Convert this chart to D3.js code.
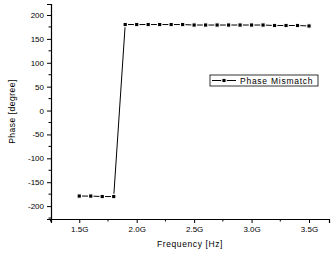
<!DOCTYPE html>
<html>
<head>
<meta charset="utf-8">
<script src="https://cdn.jsdelivr.net/npm/d3@7"></script>
<style>
  body { margin: 0; background: #fff; }
  svg { display: block; font-family: "Liberation Sans", Arial, sans-serif; }
</style>
</head>
<body>
<div id="chart"></div>
<script>
// frequency in GHz
const freqs = [1.5, 1.6, 1.7, 1.8, 1.9, 2.0, 2.1, 2.2, 2.3, 2.4, 2.5, 2.6, 2.7,
  2.8, 2.9, 3.0, 3.1, 3.2, 3.3, 3.4, 3.5];
const phase = [-179, -179, -180, -180, 180, 180, 180, 180, 180, 180, 179, 179, 179,
  179, 179, 179, 179, 178, 178, 178, 177];
const xTicks = [1.5, 2.0, 2.5, 3.0, 3.5];
const yTicks = [-200, -150, -100, -50, 0, 50, 100, 150, 200];
const seriesName = "Phase Mismatch";

const width = 336, height = 258;
const margin = { top: 4, right: 7, bottom: 39, left: 51 };

const data = freqs.map((f, i) => ({ f, p: phase[i] }));

const x = d3.scaleLinear()
  .domain([1.254, 3.674])
  .range([margin.left, width - margin.right]);
const y = d3.scaleLinear()
  .domain([-227, 223])
  .range([height - margin.bottom, margin.top]);

const svg = d3.select("#chart").append("svg")
  .attr("width", width)
  .attr("height", height);

// minor ticks
const xMinor = d3.range(1.25, 3.66, 0.25).filter((v) => !xTicks.some((t) => Math.abs(t - v) < 1e-6));
const yMinor = d3.range(-225, 224, 25).filter((v) => !yTicks.includes(v));

const xAxis = svg.append("g")
  .attr("transform", `translate(0,${height - margin.bottom})`)
  .call(d3.axisBottom(x).tickValues(xTicks).tickSize(4).tickPadding(3)
    .tickFormat((d) => d.toFixed(1) + "G"));
xAxis.append("g").selectAll("line").data(xMinor).join("line")
  .attr("x1", (d) => x(d)).attr("x2", (d) => x(d))
  .attr("y1", 0).attr("y2", 2.5).attr("stroke", "#000");

const yAxis = svg.append("g")
  .attr("transform", `translate(${margin.left},0)`)
  .call(d3.axisLeft(y).tickValues(yTicks).tickSize(4).tickPadding(3)
    .tickFormat((d) => String(d)));
yAxis.append("g").selectAll("line").data(yMinor).join("line")
  .attr("y1", (d) => y(d)).attr("y2", (d) => y(d))
  .attr("x1", 0).attr("x2", -2.5).attr("stroke", "#000");

svg.selectAll(".domain").attr("stroke", "#000").attr("stroke-width", 1.2);
svg.selectAll(".tick text").attr("font-size", 8).attr("fill", "#000");
svg.selectAll(".tick line").attr("stroke", "#000");

// axis titles
svg.append("text")
  .attr("x", (margin.left + width - margin.right) / 2)
  .attr("y", 247)
  .attr("text-anchor", "middle")
  .attr("font-size", 8.5)
  .attr("letter-spacing", 0.6)
  .text("Frequency [Hz]");

svg.append("text")
  .attr("transform", `translate(15,${(margin.top + height - margin.bottom) / 2}) rotate(-90)`)
  .attr("text-anchor", "middle")
  .attr("font-size", 8.5)
  .attr("letter-spacing", 0.5)
  .text("Phase [degree]");

// series
const line = d3.line().x((d) => x(d.f)).y((d) => y(d.p));
svg.append("path")
  .datum(data)
  .attr("fill", "none")
  .attr("stroke", "#000")
  .attr("stroke-width", 1)
  .attr("d", line);

svg.append("g").selectAll("rect").data(data).join("rect")
  .attr("x", (d) => x(d.f) - 2.2)
  .attr("y", (d) => y(d.p) - 2.2)
  .attr("width", 4.4)
  .attr("height", 4.4)
  .attr("fill", "#000")
  .attr("stroke", "#fff")
  .attr("stroke-width", 1.2);

// legend
const legend = svg.append("g").attr("transform", "translate(210,75)");
legend.append("rect")
  .attr("width", 108).attr("height", 11)
  .attr("fill", "#fff").attr("stroke", "#000").attr("stroke-width", 0.8);
legend.append("line")
  .attr("x1", 2).attr("x2", 26).attr("y1", 5.5).attr("y2", 5.5)
  .attr("stroke", "#000");
legend.append("rect")
  .attr("x", 11.8).attr("y", 3.3).attr("width", 4.4).attr("height", 4.4)
  .attr("fill", "#000").attr("stroke", "#fff").attr("stroke-width", 1.2);
legend.append("text")
  .attr("x", 30).attr("y", 8.8)
  .attr("font-size", 8.5)
  .attr("letter-spacing", 0.75)
  .text(seriesName);
</script>
</body>
</html>
